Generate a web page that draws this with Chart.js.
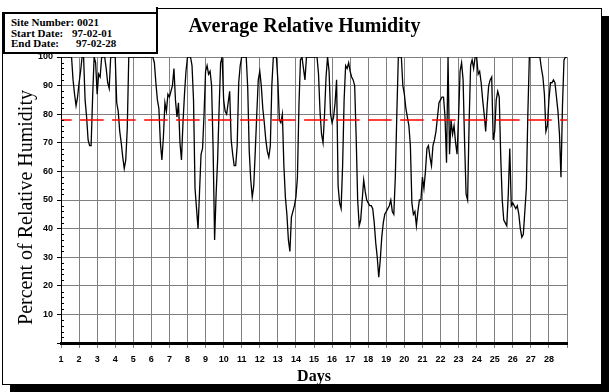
<!DOCTYPE html>
<html>
<head>
<meta charset="utf-8">
<title>Average Relative Humidity</title>
<script src="https://cdn.jsdelivr.net/npm/chart.js@4.4.0/dist/chart.umd.min.js"></script>
<style>
  body { margin: 0; background: #fff; }
  #wrap { position: relative; width: 609px; height: 392px; overflow: hidden; }
  #frame { position: absolute; left: 2px; top: 8px; width: 598px; height: 375px; border: 1px solid #000; background: #fff; box-shadow: 8px 8px 0 0 #000; }
  #cover { position: absolute; left: 0; top: 7px; width: 156px; height: 5px; background: #fff; border-right: 2px solid #000; }
  #info { position: absolute; left: 3px; top: 12px; width: 145px; height: 35px; border: 2px solid #000; background: #fff; padding: 3px 0 0 6px; font: bold 11px "Liberation Serif", serif; line-height: 10.7px; white-space: nowrap; }
  #info .lbl { display: inline-block; }
  #chart { position: absolute; left: 0; top: 0; }
</style>
</head>
<body>
<div id="wrap">
  <div id="frame"></div>
  <div id="cover"></div>
  <canvas id="chart" width="609" height="392"></canvas>
  <div id="info">
    <div>Site Number: 0021</div>
    <div><span class="lbl" style="width:61px">Start Date:</span>97-02-01</div>
    <div><span class="lbl" style="width:65px">End Date:</span>97-02-28</div>
  </div>
</div>
<script>
  // x axis: days of February 1997, one gridline per day
  const days = [1, 2, 3, 4, 5, 6, 7, 8, 9, 10, 11, 12, 13, 14, 15, 16, 17, 18, 19, 20, 21, 22, 23, 24, 25, 26, 27, 28];
  const yTicks = [10, 20, 30, 40, 50, 60, 70, 80, 90, 100];
  const readingsPerDay = 12; // one reading every 2 hours

  // relative humidity (%), 12 readings per day
  const humidity = [
    100, 100, 100, 100, 100, 100, 100, 100, 92, 87, 83, 86,   // 1
    91, 95, 100, 100, 85, 79, 71, 69, 69, 86, 100, 98,        // 2
    87, 94, 93, 100, 100, 100, 96, 91, 89, 100, 100, 100,     // 3
    100, 84, 81, 74, 70, 65, 61, 64, 75, 100, 100, 100,       // 4
    100, 100, 100, 100, 100, 100, 100, 100, 100, 100, 100, 100, // 5
    100, 100, 98, 91, 85, 82, 70, 64, 72, 84, 81, 87,         // 6
    86, 88, 90, 96, 85, 79, 84, 70, 64, 77, 87, 95,           // 7
    100, 100, 100, 97, 85, 54, 47, 40, 53, 66, 68, 80,        // 8
    95, 97, 94, 95, 90, 68, 36, 52, 64, 82, 98, 100,          // 9
    85, 81, 80, 84, 88, 71, 66, 62, 62, 69, 91, 97,           // 10
    100, 100, 100, 100, 89, 67, 57, 51, 55, 67, 80, 92,       // 11
    95, 90, 82, 77, 71, 67, 65, 69, 90, 100, 100, 100,        // 12
    92, 78, 77, 80, 62, 51, 45, 36, 32, 44, 46, 48,           // 13
    51, 58, 83, 99, 100, 96, 92, 100, 100, 100, 100, 100,     // 14
    100, 100, 100, 94, 81, 73, 70, 80, 93, 100, 95, 80,       // 15
    77, 79, 84, 92, 55, 49, 47, 62, 85, 97, 96, 98,           // 16
    95, 93, 92, 90, 72, 50, 41, 43, 50, 57, 53, 50,           // 17
    49, 48, 48, 47, 42, 35, 30, 23, 29, 37, 42, 45,           // 18
    46, 47, 48, 50, 46, 45, 58, 80, 100, 100, 100, 90,        // 19
    87, 82, 79, 76, 69, 49, 45, 46, 41, 46, 50, 50,           // 20
    58, 54, 60, 68, 69, 65, 62, 69, 71, 74, 79, 84,           // 21
    85, 86, 86, 79, 63, 100, 66, 78, 73, 76, 70, 66,          // 22
    79, 95, 98, 92, 70, 52, 50, 77, 97, 99, 96, 100,          // 23
    100, 94, 95, 91, 85, 80, 74, 83, 90, 92, 93, 71,          // 24
    74, 85, 88, 86, 65, 50, 43, 42, 41, 52, 68, 48,           // 25
    49, 48, 47, 48, 45, 40, 37, 38, 46, 54, 80, 100,          // 26
    100, 100, 100, 100, 100, 100, 100, 96, 93, 87, 74, 76,    // 27
    85, 91, 91, 92, 91, 86, 81, 73, 58, 83, 99, 100,          // 28
    100
  ];
  const averageHumidity = 78;

  const firstDay = days[0];
  const lastDay = days[days.length - 1] + 1;
  const humidityPoints = humidity.map((v, i) => ({ x: firstDay + i / readingsPerDay, y: v }));
  const averagePoints = [{ x: firstDay, y: averageHumidity }, { x: lastDay, y: averageHumidity }];

  const tickFont = { family: 'Liberation Sans', size: 9, weight: 'bold' };

  // small minor ticks every 2% inside the y axis
  const minorTicks = {
    id: 'minorTicks',
    afterDraw(chart) {
      const y = chart.scales.y;
      const ctx = chart.ctx;
      ctx.save();
      ctx.strokeStyle = '#000';
      ctx.lineWidth = 1;
      for (let v = 0; v < 100; v += 2) {
        if (v % 10 === 0) continue;
        const py = Math.round(y.getPixelForValue(v)) + 0.5;
        ctx.beginPath();
        ctx.moveTo(y.right, py);
        ctx.lineTo(y.right + 3, py);
        ctx.stroke();
      }
      ctx.restore();
    }
  };

  new Chart(document.getElementById('chart'), {
    type: 'line',
    data: {
      datasets: [
        {
          label: 'Average',
          data: averagePoints,
          borderColor: '#ff0000',
          borderWidth: 1.5,
          borderDash: [23.6, 8.4],
          borderDashOffset: 12.9,
          pointRadius: 0
        },
        {
          label: 'Relative Humidity',
          data: humidityPoints,
          borderColor: '#000000',
          borderWidth: 1.3,
          pointRadius: 0,
          tension: 0
        }
      ]
    },
    options: {
      responsive: false,
      animation: false,
      layout: { padding: 0 },
      plugins: {
        legend: { display: false },
        tooltip: { enabled: false },
        title: {
          display: true,
          text: 'Average Relative Humidity',
          color: '#000',
          font: { family: 'Liberation Serif', size: 20, weight: 'bold' },
          padding: { top: 15, bottom: 18 }
        }
      },
      scales: {
        x: {
          type: 'linear',
          min: firstDay,
          max: lastDay,
          afterFit: s => { s.height = 49; },
          ticks: {
            stepSize: 1,
            autoSkip: false,
            maxRotation: 0,
            padding: 6,
            color: '#000',
            font: tickFont,
            callback: v => days.includes(v) ? String(v) : ''
          },
          grid: { color: '#808080', tickColor: '#808080', tickLength: 5 },
          border: { color: '#000', width: 3 },
          title: {
            display: true,
            text: 'Days',
            color: '#000',
            font: { family: 'Liberation Serif', size: 16, weight: 'bold' },
            padding: { top: 0, bottom: 6 }
          }
        },
        y: {
          min: 0,
          max: 100,
          afterFit: s => { s.width = 61; },
          ticks: {
            stepSize: 10,
            padding: 4,
            color: '#000',
            font: tickFont,
            callback: v => yTicks.includes(v) ? String(v) : ''
          },
          grid: { color: '#808080', tickColor: '#000', tickLength: 4 },
          border: { color: '#000', width: 1 },
          title: {
            display: true,
            // trailing spaces push the label a little below the axis centre, as in the original
            text: 'Percent of Relative Humidity   ',
            color: '#000',
            font: { family: 'Liberation Serif', size: 20 },
            padding: { top: 15, bottom: 0 }
          }
        },
        // empty right-hand strip so the plot ends where the original does
        yRight: {
          position: 'right',
          display: true,
          afterFit: s => { s.width = 42; },
          grid: { display: false },
          ticks: { display: false },
          border: { display: false }
        }
      }
    },
    plugins: [minorTicks]
  });
</script>
</body>
</html>
